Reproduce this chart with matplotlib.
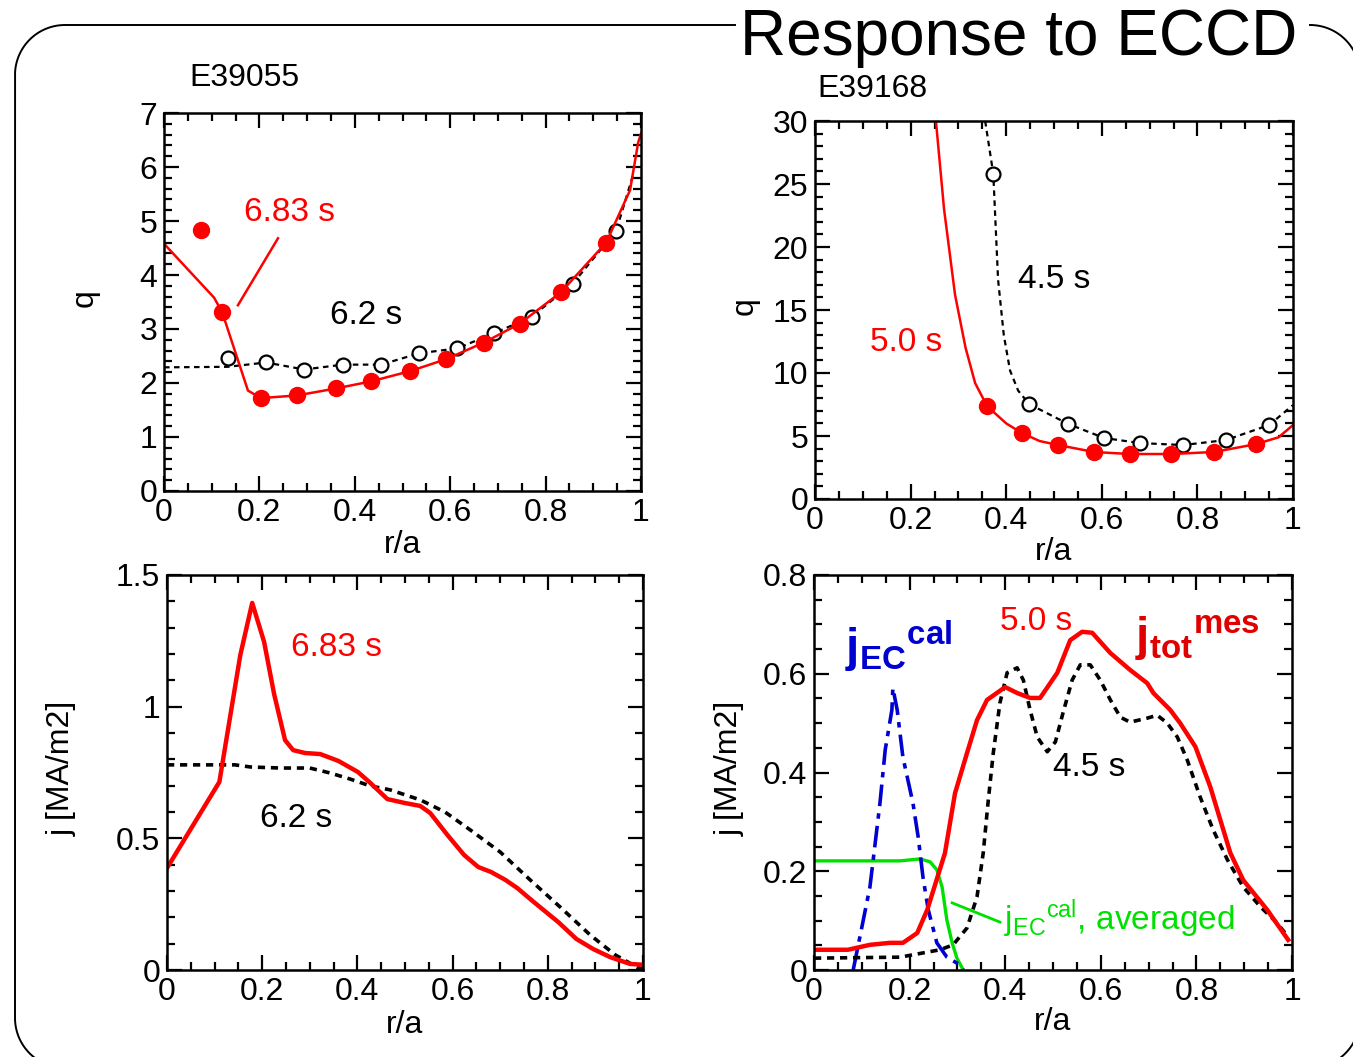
import numpy as np
import matplotlib
matplotlib.use("Agg")
import matplotlib.pyplot as plt
from matplotlib.ticker import MultipleLocator

plt.rcParams['font.family'] = ['Liberation Sans', 'DejaVu Sans']
plt.rcParams['mathtext.fontset'] = 'custom'
plt.rcParams['mathtext.rm'] = 'Liberation Sans'
plt.rcParams['mathtext.bf'] = 'Liberation Sans:bold'
plt.rcParams['mathtext.it'] = 'Liberation Sans'

RED = '#ff0000'
DRED = '#e00000'
BLUE = '#0000d0'
GREEN = '#00e000'
FS = 23      # ticks / axis labels
FT = 24      # annotations

# ---- E39055: q profiles ----
q683_line_r = [0.0, 0.105, 0.122, 0.176, 0.203, 0.279, 0.361, 0.434, 0.516, 0.591,
               0.671, 0.746, 0.832, 0.927, 0.977, 0.994, 1.0]
q683_line_q = [4.58, 3.58, 3.31, 1.86, 1.72, 1.77, 1.90, 2.03, 2.22, 2.44,
               2.75, 3.10, 3.68, 4.60, 5.57, 6.45, 6.62]
q683_pts_r = [0.078, 0.122, 0.203, 0.279, 0.361, 0.434, 0.516, 0.591, 0.671, 0.746, 0.832, 0.927]
q683_pts_q = [4.83, 3.31, 1.72, 1.77, 1.90, 2.03, 2.22, 2.44, 2.75, 3.10, 3.68, 4.60]

q62_line_r = [0.0, 0.134, 0.214, 0.294, 0.375, 0.455, 0.535, 0.614, 0.692, 0.771, 0.857, 0.948, 0.985]
q62_line_q = [2.29, 2.30, 2.38, 2.25, 2.34, 2.34, 2.55, 2.64, 2.92, 3.23, 3.84, 4.82, 5.9]
q62_pts_r = [0.134, 0.214, 0.294, 0.375, 0.455, 0.535, 0.614, 0.692, 0.771, 0.857, 0.948]
q62_pts_q = [2.47, 2.38, 2.25, 2.34, 2.34, 2.55, 2.64, 2.92, 3.23, 3.84, 4.82]

# ---- E39168: q profiles ----
q50_line_r = [0.253, 0.27, 0.293, 0.315, 0.335, 0.360, 0.40, 0.433, 0.47, 0.509, 0.584,
              0.659, 0.745, 0.835, 0.923, 0.97, 1.0]
q50_line_q = [30.0, 23.0, 16.2, 12.0, 9.2, 7.37, 6.0, 5.23, 4.6, 4.28, 3.73,
              3.57, 3.57, 3.73, 4.36, 4.9, 5.87]
q50_pts_r = [0.360, 0.433, 0.509, 0.584, 0.659, 0.745, 0.835, 0.923]
q50_pts_q = [7.37, 5.23, 4.28, 3.73, 3.57, 3.57, 3.73, 4.36]

q45_line_r = [0.356, 0.373, 0.383, 0.395, 0.408, 0.425, 0.448, 0.530, 0.605, 0.680,
              0.770, 0.860, 0.950, 1.0]
q45_line_q = [30.0, 25.8, 17.4, 13.0, 10.2, 8.6, 7.53, 5.95, 4.84, 4.44,
              4.28, 4.68, 5.87, 7.45]
q45_pts_r = [0.373, 0.448, 0.530, 0.605, 0.680, 0.770, 0.860, 0.950]
q45_pts_q = [25.8, 7.53, 5.95, 4.84, 4.44, 4.28, 4.68, 5.87]

# ---- E39055: current density ----
j683_r = [0.0, 0.11, 0.154, 0.179, 0.204, 0.225, 0.248, 0.265, 0.29, 0.322, 0.36, 0.401,
          0.425, 0.463, 0.5, 0.532, 0.553, 0.589, 0.624, 0.654, 0.681, 0.711, 0.736,
          0.768, 0.801, 0.822, 0.86, 0.895, 0.931, 0.973, 1.0]
j683_j = [0.387, 0.714, 1.196, 1.394, 1.246, 1.048, 0.873, 0.835, 0.824, 0.820, 0.794, 0.752,
          0.714, 0.649, 0.634, 0.623, 0.596, 0.513, 0.437, 0.391, 0.372, 0.342, 0.311,
          0.262, 0.213, 0.182, 0.118, 0.080, 0.049, 0.023, 0.02]
j62_r = [0.0, 0.143, 0.175, 0.238, 0.30, 0.343, 0.385, 0.427, 0.469, 0.532, 0.584, 0.637,
         0.70, 0.763, 0.826, 0.889, 0.942, 0.99, 1.0]
j62_j = [0.779, 0.779, 0.771, 0.767, 0.767, 0.748, 0.725, 0.699, 0.684, 0.646, 0.600, 0.532,
         0.448, 0.342, 0.239, 0.133, 0.057, 0.008, 0.005]

# ---- E39168: current density ----
j50_r = [0.0, 0.071, 0.117, 0.159, 0.186, 0.216, 0.237, 0.274, 0.295, 0.320, 0.341, 0.362,
         0.400, 0.425, 0.452, 0.473, 0.509, 0.536, 0.561, 0.582, 0.620, 0.661, 0.697,
         0.710, 0.745, 0.766, 0.798, 0.829, 0.871, 0.898, 0.948, 0.992]
j50_j = [0.041, 0.041, 0.051, 0.055, 0.055, 0.075, 0.122, 0.237, 0.358, 0.439, 0.506, 0.547,
         0.573, 0.561, 0.551, 0.551, 0.602, 0.668, 0.685, 0.683, 0.642, 0.608, 0.581,
         0.561, 0.527, 0.500, 0.452, 0.371, 0.237, 0.182, 0.122, 0.061]
j45_r = [0.0, 0.18, 0.264, 0.291, 0.320, 0.341, 0.354, 0.364, 0.375, 0.389, 0.404, 0.425,
         0.438, 0.452, 0.467, 0.488, 0.505, 0.521, 0.540, 0.557, 0.578, 0.599, 0.620,
         0.641, 0.661, 0.697, 0.718, 0.739, 0.760, 0.781, 0.808, 0.835, 0.865, 0.898,
         0.934, 0.969, 0.992]
j45_j = [0.024, 0.026, 0.041, 0.051, 0.085, 0.148, 0.237, 0.338, 0.439, 0.541, 0.602, 0.612,
         0.587, 0.527, 0.472, 0.442, 0.462, 0.521, 0.587, 0.618, 0.618, 0.587, 0.547,
         0.512, 0.502, 0.510, 0.516, 0.500, 0.472, 0.425, 0.350, 0.284, 0.223, 0.168,
         0.128, 0.095, 0.067]
jec_r = [0.082, 0.096, 0.117, 0.138, 0.149, 0.163, 0.165, 0.174, 0.186, 0.207, 0.218,
         0.228, 0.239, 0.257, 0.278, 0.306, 0.312]
jec_j = [0.0, 0.067, 0.168, 0.338, 0.446, 0.527, 0.571, 0.527, 0.431, 0.338, 0.269,
         0.188, 0.122, 0.055, 0.026, 0.010, 0.0]
jec_avg_r = [0.0, 0.18, 0.222, 0.243, 0.257, 0.268, 0.278, 0.289, 0.299, 0.310]
jec_avg_j = [0.221, 0.221, 0.225, 0.219, 0.203, 0.168, 0.101, 0.055, 0.024, 0.004]

W, H = 1353, 1057
fig = plt.figure(figsize=(W / 100, H / 100), dpi=100)

# rounded frame (pixel coordinates), open at the top where the title sits
bg = fig.add_axes([0, 0, 1, 1], zorder=-1)
bg.set_xlim(0, W)
bg.set_ylim(H, 0)
bg.axis('off')
L, T, R, B, rad = 15, 25, 1360, 1068, 50


def arc(cx, cy, a0, a1):
    a = np.radians(np.linspace(a0, a1, 30))
    return cx + rad * np.cos(a), cy + rad * np.sin(a)


# y axis points down here, so angles run clockwise on screen
xs, ys = [], []
for seg in [([1310, R - rad], [T, T]), arc(R - rad, T + rad, 270, 360),
            ([R, R], [T + rad, B - rad]), arc(R - rad, B - rad, 0, 90),
            ([R - rad, L + rad], [B, B]), arc(L + rad, B - rad, 90, 180),
            ([L, L], [B - rad, T + rad]), arc(L + rad, T + rad, 180, 270),
            ([L + rad, 735], [T, T])]:
    xs.extend(seg[0])
    ys.extend(seg[1])
bg.plot(xs, ys, color='black', lw=1.4, clip_on=False)
bg.text(740, 55, 'Response to ECCD', fontsize=46, ha='left', va='baseline')


def panel(x0, x1, y0, y1):
    ax = fig.add_axes([x0 / W, 1 - y1 / H, (x1 - x0) / W, (y1 - y0) / H])
    ax.tick_params(which='both', direction='in', top=True, right=True,
                   width=1.6, labelsize=FS)
    ax.tick_params(which='major', length=11, pad=5)
    ax.tick_params(which='minor', length=6)
    for s in ax.spines.values():
        s.set_linewidth(1.8)
    ax.set_xlim(0, 1)
    ax.xaxis.set_minor_locator(MultipleLocator(0.05))
    ax.set_xticks([0, 0.2, 0.4, 0.6, 0.8, 1.0])
    ax.set_xticklabels(['0', '0.2', '0.4', '0.6', '0.8', '1'])
    return ax


def labels(ax, ylab, xl_y, yl_x):
    ax.text(0.5, xl_y, 'r/a', transform=ax.transAxes, ha='center', va='center', fontsize=FS)
    ax.text(yl_x, 0.51, ylab, transform=ax.transAxes, ha='center', va='center',
            rotation=90, fontsize=FS)


# top left
ax1 = panel(164, 641, 113, 491)
ax1.set_ylim(0, 7)
ax1.yaxis.set_major_locator(MultipleLocator(1))
ax1.yaxis.set_minor_locator(MultipleLocator(0.2))
ax1.plot(q62_line_r, q62_line_q, color='black', lw=1.6, ls=(0, (2.5, 2)))
ax1.plot(q62_pts_r, q62_pts_q, 'o', ms=10, mfc='white', mec='black', mew=1.6)
ax1.plot(q683_line_r, q683_line_q, color=RED, lw=1.8)
ax1.plot(q683_pts_r, q683_pts_q, 'o', ms=11.5, color=RED, clip_on=False)
ax1.plot([0.155, 0.239], [3.44, 4.68], color=RED, lw=1.8)
ax1.text(0.264, 5.16, '6.83 s', color=RED, fontsize=FT, ha='center', va='center')
ax1.text(0.423, 3.25, '6.2 s', color='black', fontsize=FT, ha='center', va='center')
ax1.text(0.0535, 1.093, 'E39055', transform=ax1.transAxes, fontsize=FS, ha='left', va='center')
labels(ax1, 'q', -0.144, -0.166)

# top right
ax2 = panel(815, 1293, 121, 499)
ax2.set_ylim(0, 30)
ax2.yaxis.set_major_locator(MultipleLocator(5))
ax2.yaxis.set_minor_locator(MultipleLocator(1))
ax2.plot(q45_line_r, q45_line_q, color='black', lw=1.6, ls=(0, (2.5, 2)))
ax2.plot(q45_pts_r, q45_pts_q, 'o', ms=10, mfc='white', mec='black', mew=1.6)
ax2.plot(q50_line_r, q50_line_q, color=RED, lw=1.8)
ax2.plot(q50_pts_r, q50_pts_q, 'o', ms=11.5, color=RED)
ax2.text(0.500, 17.4, '4.5 s', color='black', fontsize=FT, ha='center', va='center')
ax2.text(0.190, 12.45, '5.0 s', color=RED, fontsize=FT, ha='center', va='center')
ax2.text(0.006, 1.085, 'E39168', transform=ax2.transAxes, fontsize=FS, ha='left', va='center')
labels(ax2, 'q', -0.140, -0.147)

# bottom left
ax3 = panel(167, 643, 575, 970)
ax3.set_ylim(0, 1.5)
ax3.set_yticks([0, 0.5, 1.0, 1.5])
ax3.set_yticklabels(['0', '0.5', '1', '1.5'])
ax3.yaxis.set_minor_locator(MultipleLocator(0.1))
ax3.plot(j62_r, j62_j, color='black', lw=2.6, ls=(0, (2, 1.6)))
ax3.plot(j683_r, j683_j, color=RED, lw=3.2)
ax3.text(0.356, 1.223, '6.83 s', color=RED, fontsize=FT, ha='center', va='center')
ax3.text(0.271, 0.577, '6.2 s', color='black', fontsize=FT, ha='center', va='center')
labels(ax3, 'j [MA/m2]', -0.139, -0.22)

# bottom right
ax4 = panel(814, 1292, 575, 970)
ax4.set_ylim(0, 0.8)
ax4.set_yticks([0, 0.2, 0.4, 0.6, 0.8])
ax4.set_yticklabels(['0', '0.2', '0.4', '0.6', '0.8'])
ax4.yaxis.set_minor_locator(MultipleLocator(0.05))
ax4.plot(jec_avg_r, jec_avg_j, color=GREEN, lw=2.4)
ax4.plot(jec_r, jec_j, color=BLUE, lw=2.6, ls=(0, (6, 2, 1.5, 2)))
ax4.plot(j45_r, j45_j, color='black', lw=2.6, ls=(0, (2, 1.6)))
ax4.plot(j50_r, j50_j, color=RED, lw=3.2)
ax4.plot([0.289, 0.389], [0.136, 0.097], color=GREEN, lw=2)
ax4.text(0.465, 0.705, '5.0 s', color=RED, fontsize=FT, ha='center', va='center')
ax4.text(0.576, 0.411, '4.5 s', color='black', fontsize=FT, ha='center', va='center')
ax4.text(0.178, 0.655, r'$\mathbf{j_{EC}}^{\mathbf{cal}}$', color=BLUE, fontsize=34,
         ha='center', va='center')
ax4.text(0.802, 0.672, r'$\mathbf{j_{tot}}^{\mathbf{mes}}$', color=DRED, fontsize=34,
         ha='center', va='center')
ax4.text(0.397, 0.105, r'$\mathrm{j_{EC}}^{\mathrm{cal}}$, averaged', color=GREEN,
         fontsize=FT, ha='left', va='center')
labels(ax4, 'j [MA/m2]', -0.132, -0.176)

fig.savefig('out.png', dpi=100)
